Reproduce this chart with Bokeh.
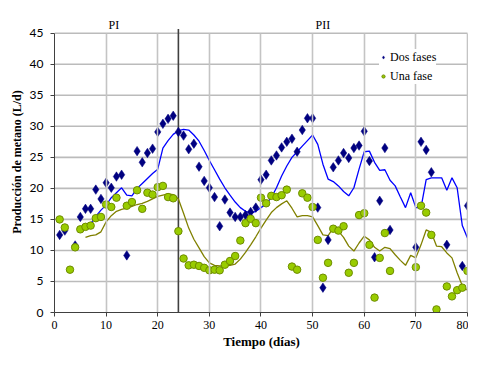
from bokeh.plotting import figure
from bokeh.models import Range1d, FixedTicker, Legend, LegendItem
from bokeh.embed import file_html
from bokeh.resources import INLINE

# ---------------- data ----------------
dias_dos = [1, 2, 4, 5, 6, 7, 8, 9, 10, 11, 12, 13, 14, 16, 17, 18, 19, 20, 21, 22,
            23, 24, 25, 26, 27, 28, 29, 30, 31, 32, 33, 34, 35, 36, 37, 38, 39, 40, 41, 42,
            43, 44, 45, 46, 47, 48, 49, 50, 51, 52, 53, 54, 55, 56, 57, 58, 59, 60, 61, 62,
            63, 64, 65, 70, 71, 72, 73, 76, 79, 80]
dos_fases = [12.5, 13.2, 10.8, 15.4, 16.7, 16.7, 19.8, 18.3, 20.9, 20.1, 21.9, 22.2, 9.2, 26.0, 24.2, 25.7, 26.4, 29.1, 30.4, 31.2,
             31.7, 29.1, 28.5, 26.3, 27.2, 23.5, 21.2, 20.1, 18.6, 13.9, 18.2, 16.1, 15.4, 15.4, 15.7, 16.2, 16.9, 21.4, 22.2, 24.5,
             25.3, 26.6, 27.5, 28.0, 25.9, 29.4, 31.3, 31.3, 16.9, 4.0, 11.7, 23.4, 24.5, 25.7, 24.9, 26.5, 26.9, 29.2, 24.4, 8.9,
             18.0, 26.5, 13.3, 10.5, 27.5, 26.2, 22.6, 10.9, 7.5, 17.2]

dias_una = [1, 2, 3, 4, 5, 6, 7, 8, 9, 10, 11, 12, 14, 15, 16, 17, 18, 19, 20, 21,
            22, 23, 24, 25, 26, 27, 28, 29, 30, 31, 32, 33, 34, 35, 36, 37, 38, 39, 40, 41,
            42, 43, 44, 45, 46, 47, 48, 49, 50, 51, 52, 53, 54, 55, 56, 57, 58, 59, 60, 61,
            62, 63, 64, 65, 70, 71, 72, 73, 74, 76, 77, 78, 79, 80]
una_fase = [15.0, 13.7, 6.9, 10.5, 13.4, 13.8, 14.0, 15.2, 15.4, 17.4, 17.0, 18.5, 17.2, 17.8, 19.7, 16.7, 19.3, 19.0, 20.2, 20.4,
            18.6, 18.4, 13.1, 8.7, 7.6, 7.7, 7.5, 7.2, 6.8, 6.9, 6.8, 7.7, 8.3, 9.1, 11.6, 14.4, 15.1, 14.4, 18.5, 17.6,
            18.8, 18.6, 18.9, 19.8, 7.4, 6.9, 19.2, 18.5, 17.0, 11.7, 5.6, 8.0, 13.5, 13.2, 13.9, 6.4, 8.0, 15.7, 16.0, 10.9,
            2.4, 8.8, 12.8, 6.7, 7.3, 17.2, 16.1, 12.5, 0.5, 4.2, 2.6, 3.6, 4.0, 6.7]

dias_tend = list(range(6, 81))
tend_dos = [13.7, 14.3, 15.5, 16.5, 17.3, 18.5, 19.3, 20.1, 18.9, 18.8, 20.0, 20.8, 21.6, 22.4, 23.1,
            26.5, 27.7, 28.7, 29.3, 29.5, 29.4, 28.6, 27.6, 26.1, 24.5, 23.0, 21.5, 20.1, 18.9, 17.8,
            16.9, 16.3, 16.0, 16.3, 16.9, 17.5, 18.5, 20.1, 22.0, 23.6, 25.0, 25.9, 26.8, 27.7, 28.6,
            27.1, 23.9, 21.5, 21.1, 20.4, 19.5, 18.8, 20.1, 23.1, 25.9, 26.0, 24.2, 22.9, 23.0, 21.3,
            20.4, 18.6, 16.9, 19.3, 16.9, 16.9, 21.4, 21.7, 21.7, 21.7, 19.7, 21.7, 20.1, 14.0, 12.0]
tend_una = [12.1, 12.4, 12.5, 13.0, 14.6, 15.6, 16.3, 16.6, 16.8, 17.1, 17.4, 17.6, 17.9, 18.3, 18.7,
            18.9, 19.1, 19.0, 18.3, 16.0, 13.6, 11.8, 10.4, 9.0, 8.0, 7.6, 7.5, 7.5, 7.6, 7.8,
            8.6, 9.7, 10.9, 12.2, 13.6, 14.9, 16.1, 16.9, 17.5, 18.0, 16.8, 15.4, 15.6, 15.6, 15.4,
            14.0, 12.5, 12.4, 13.6, 13.1, 12.1, 10.7, 9.9, 11.2, 12.3, 11.7, 10.5, 9.9, 10.5, 10.3,
            9.3, 8.4, 7.6, 9.2, 8.8, 10.9, 13.3, 12.9, 10.7, 10.6, 9.6, 8.8, 6.4, 4.3, 3.6]

x_ticks = [0, 10, 20, 30, 40, 50, 60, 70, 80]
y_ticks = [0, 5, 10, 15, 20, 25, 30, 35, 40, 45]
cambio_fase = 24
fases = ["PI", "PII"]
fases_x = [11.5, 52]

# ---------------- figure ----------------
X_MAX, Y_MAX = 80, 45
p = figure(width=468, height=351, output_backend="svg", toolbar_location=None,
           x_range=Range1d(0, 80.2), y_range=Range1d(0, 48.5),
           min_border_left=54, min_border_right=0, min_border_top=11, min_border_bottom=36,
           background_fill_color="white", border_fill_color="white")
p.outline_line_color = None

grid_col = "#C4C4C4"
p.xgrid.ticker = FixedTicker(ticks=x_ticks)
p.xgrid.bounds = (0, X_MAX)
p.xgrid.cross_bounds = (0, Y_MAX)
p.xgrid.grid_line_color = grid_col
p.xgrid.grid_line_width = 1.6
p.xgrid.level = "glyph"
p.ygrid.visible = False

# horizontal grid lines drawn as a multi-line from the tick list
h_ticks = y_ticks[1:]
p.multi_line(xs=[[0, X_MAX] for _ in h_ticks], ys=[[t, t] for t in h_ticks],
             line_color="#BBBBBB", line_width=1.6)

# phase separator
p.segment(x0=[cambio_fase], y0=[0], x1=[cambio_fase], y1=[45.7], line_color="#404040", line_width=1.6)
p.text(x=fases_x, y=[46.3, 46.3], text=fases, text_align="center", text_baseline="middle",
       text_font={"value": "Liberation Serif"}, text_font_size="12px", text_color="#000000")

# trend lines
p.line(dias_tend, tend_dos, line_color="#0000FF", line_width=1.3)
p.line(dias_tend, tend_una, line_color="#808000", line_width=1.3)

# markers
r_dos = p.scatter(dias_dos, dos_fases, marker="diamond", size=9.5, fill_color="#000080",
                  line_color="#000080", line_width=0.5)
r_una = p.scatter(dias_una, una_fase, marker="circle", size=7.5, fill_color="#99CC00",
                  line_color="#6E8C00", line_width=1)

legend = Legend(items=[LegendItem(label="Dos fases", renderers=[r_dos]),
                       LegendItem(label="Una fase", renderers=[r_una])],
                location=(325, 228), background_fill_color="white", background_fill_alpha=1,
                border_line_color=None, padding=3, spacing=3, margin=0,
                glyph_width=8, glyph_height=16, label_height=16, label_standoff=3,
                label_text_font="Liberation Serif", label_text_font_size="12px",
                label_text_color="#000000")
p.add_layout(legend)

# axes
xa = p.xaxis[0]
xa.ticker = FixedTicker(ticks=x_ticks)
xa.bounds = (0, X_MAX)
xa.axis_line_color = "#404040"
xa.major_tick_line_color = "#404040"
xa.major_tick_out = 4
xa.major_tick_in = 0
xa.minor_tick_line_color = None
xa.major_label_text_font = "Liberation Serif"
xa.major_label_text_font_size = "12px"
xa.major_label_text_color = "#000000"
xa.major_label_standoff = 4
xa.axis_label = "Tiempo (días)"
xa.axis_label_text_font = "Liberation Serif"
xa.axis_label_text_font_style = "bold"
xa.axis_label_text_font_size = "13px"
xa.axis_label_text_color = "#000000"
xa.axis_label_standoff = 2

ya = p.yaxis[0]
ya.ticker = FixedTicker(ticks=y_ticks)
ya.bounds = (0, Y_MAX)
ya.axis_line_color = "#404040"
ya.major_tick_line_color = "#404040"
ya.major_tick_out = 4
ya.major_tick_in = 0
ya.minor_tick_line_color = None
ya.major_label_text_font = "Lato"
ya.major_label_text_font_size = "12px"
ya.major_label_text_color = "#000000"
ya.major_label_standoff = 7
ya.axis_label = "Producción de metano (L/d)"
ya.axis_label_text_font = "Liberation Serif"
ya.axis_label_text_font_style = "bold"
ya.axis_label_text_font_size = "12px"
ya.axis_label_text_color = "#000000"
ya.axis_label_standoff = 3

open("out.html", "w").write(file_html(p, INLINE))
